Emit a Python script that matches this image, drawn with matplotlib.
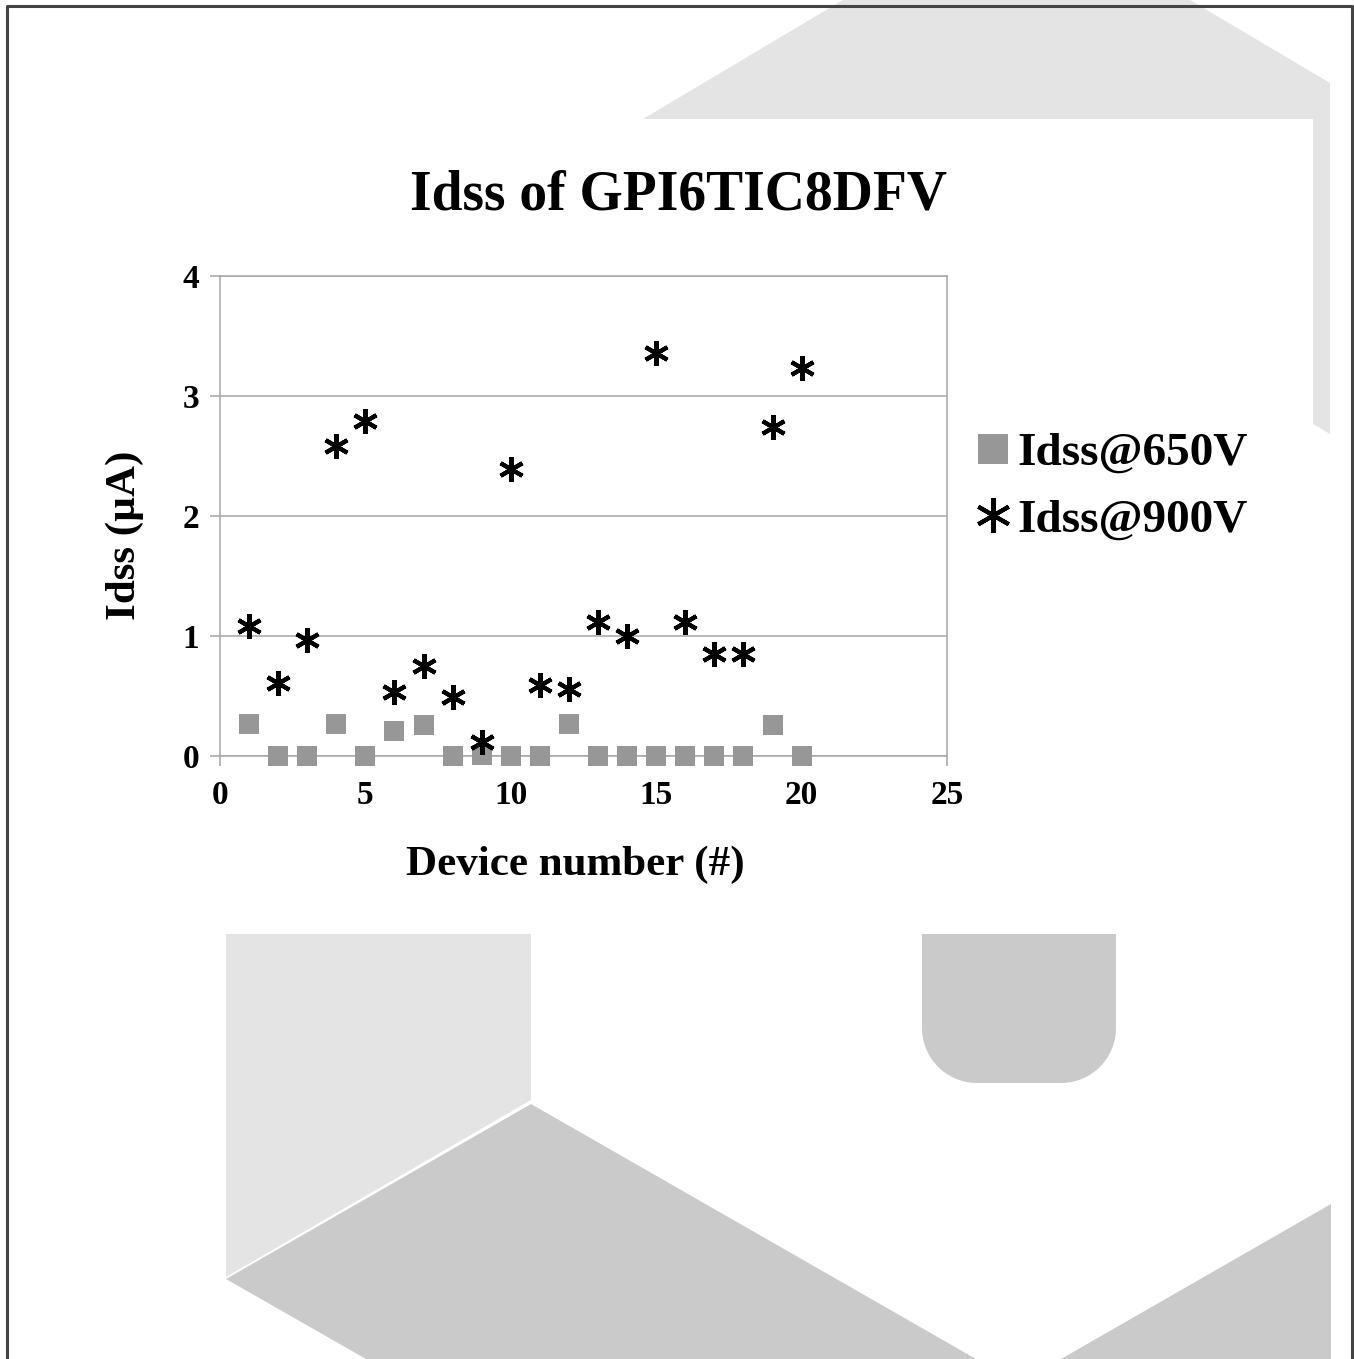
"""Idss scatter of GPI6TIC8DFV devices at 650 V and 900 V."""

import matplotlib

matplotlib.use("Agg")

import numpy as np
import matplotlib.pyplot as plt
from matplotlib.patches import Polygon
from matplotlib.lines import Line2D

# data
device_number = list(range(1, 21))
idss_650v = [0.27, 0.0, 0.0, 0.27, 0.0, 0.21, 0.26, 0.0, 0.01, 0.0,
             0.0, 0.27, 0.0, 0.0, 0.0, 0.0, 0.0, 0.0, 0.26, 0.0]
idss_900v = [1.08, 0.61, 0.97, 2.58, 2.79, 0.53, 0.75, 0.49, 0.12, 2.39,
             0.59, 0.56, 1.12, 1.00, 3.36, 1.12, 0.85, 0.85, 2.74, 3.23]
x_ticks = [0, 5, 10, 15, 20, 25]
y_ticks = [0, 1, 2, 3, 4]

W, H = 1354, 1359
LIGHT = "#e4e4e4"
DARK = "#cacaca"

plt.rcParams["font.family"] = ["Liberation Serif", "DejaVu Serif"]
plt.rcParams["font.weight"] = "bold"

fig = plt.figure(figsize=(W / 100, H / 100), dpi=100)


def px(points):
    """Convert pixel coordinates (top-left origin) to figure fraction."""
    return [(x / W, 1 - y / H) for x, y in points]


# background watermark shapes
shapes = [
    ([(643, 119), (843, 0), (1190, 0), (1330, 83), (1330, 434),
      (1313, 424), (1313, 119)], LIGHT),
    ([(226, 934), (531, 934), (531, 1100), (226, 1277)], LIGHT),
    ([(531, 1104), (226, 1279), (366, 1359), (976, 1359)], DARK),
    ([(1331, 1204), (1061, 1359), (1331, 1359)], DARK),
]

# rounded tab: flat top, rounded bottom corners
radius = 55
theta = np.linspace(0, np.pi / 2, 20)
tab = [(922, 934), (1116, 934), (1116, 1028)]
tab += [(1061 + radius * np.cos(t), 1028 + radius * np.sin(t)) for t in theta]
tab += [(977 - radius * np.sin(t), 1028 + radius * np.cos(t)) for t in theta]
shapes.append((tab, DARK))

for pts, colour in shapes:
    fig.add_artist(Polygon(px(pts), closed=True, transform=fig.transFigure,
                           facecolor=colour, edgecolor="none", zorder=0))

# frame around the picture
xs, ys = zip(*px([(7, 1359), (7, 6), (1352, 6), (1352, 1359)]))
fig.add_artist(Line2D(xs, ys, transform=fig.transFigure,
                      color="#444444", linewidth=2.2, zorder=1))

ax = fig.add_axes([220 / W, 1 - 756 / H, 727 / W, 480 / H])
ax.set_facecolor("white")

ax.plot(device_number, idss_650v, linestyle="none", marker="s",
        markersize=15, markeredgewidth=0, color="#979797",
        label="Idss@650V", zorder=3, clip_on=False)
ax.plot(device_number, idss_900v, linestyle="none", marker=(6, 2, 0),
        markersize=18, markeredgewidth=3, color="black",
        label="Idss@900V", zorder=4, clip_on=False)

ax.set_xlim(0, 25)
ax.set_ylim(0, 4)
ax.set_xticks(x_ticks)
ax.set_yticks(y_ticks)
ax.grid(axis="y", color="#a6a6a6", linewidth=1.1)
ax.set_axisbelow(True)
for spine in ax.spines.values():
    spine.set_color("#a6a6a6")
    spine.set_linewidth(1.1)
ax.tick_params(axis="both", direction="out", length=7, width=1.1,
               color="#a6a6a6", labelsize=24, labelcolor="black")
ax.tick_params(axis="y", pad=8)
ax.tick_params(axis="x", pad=10)
for lab in ax.get_xticklabels() + ax.get_yticklabels():
    lab.set_fontweight("bold")

fig.text(575 / W, 1 - 865 / H, "Device number (#)", fontsize=31,
         fontweight="bold", ha="center", va="center")
fig.text(125 / W, 1 - 535 / H, "Idss (µA)", fontsize=31, fontweight="bold",
         ha="center", va="center", rotation=90)
fig.text(679 / W, 1 - 195 / H, "Idss of GPI6TIC8DFV", fontsize=40,
         fontweight="bold", ha="center", va="center")

ax.legend(loc="center left", bbox_to_anchor=(975 / W, 1 - 487 / H),
          bbox_transform=fig.transFigure, frameon=False, fontsize=34,
          markerscale=1.4, handlelength=0.77, handletextpad=0.13,
          labelspacing=0.5, borderpad=0, borderaxespad=0)

fig.savefig("out.png", dpi=100)
